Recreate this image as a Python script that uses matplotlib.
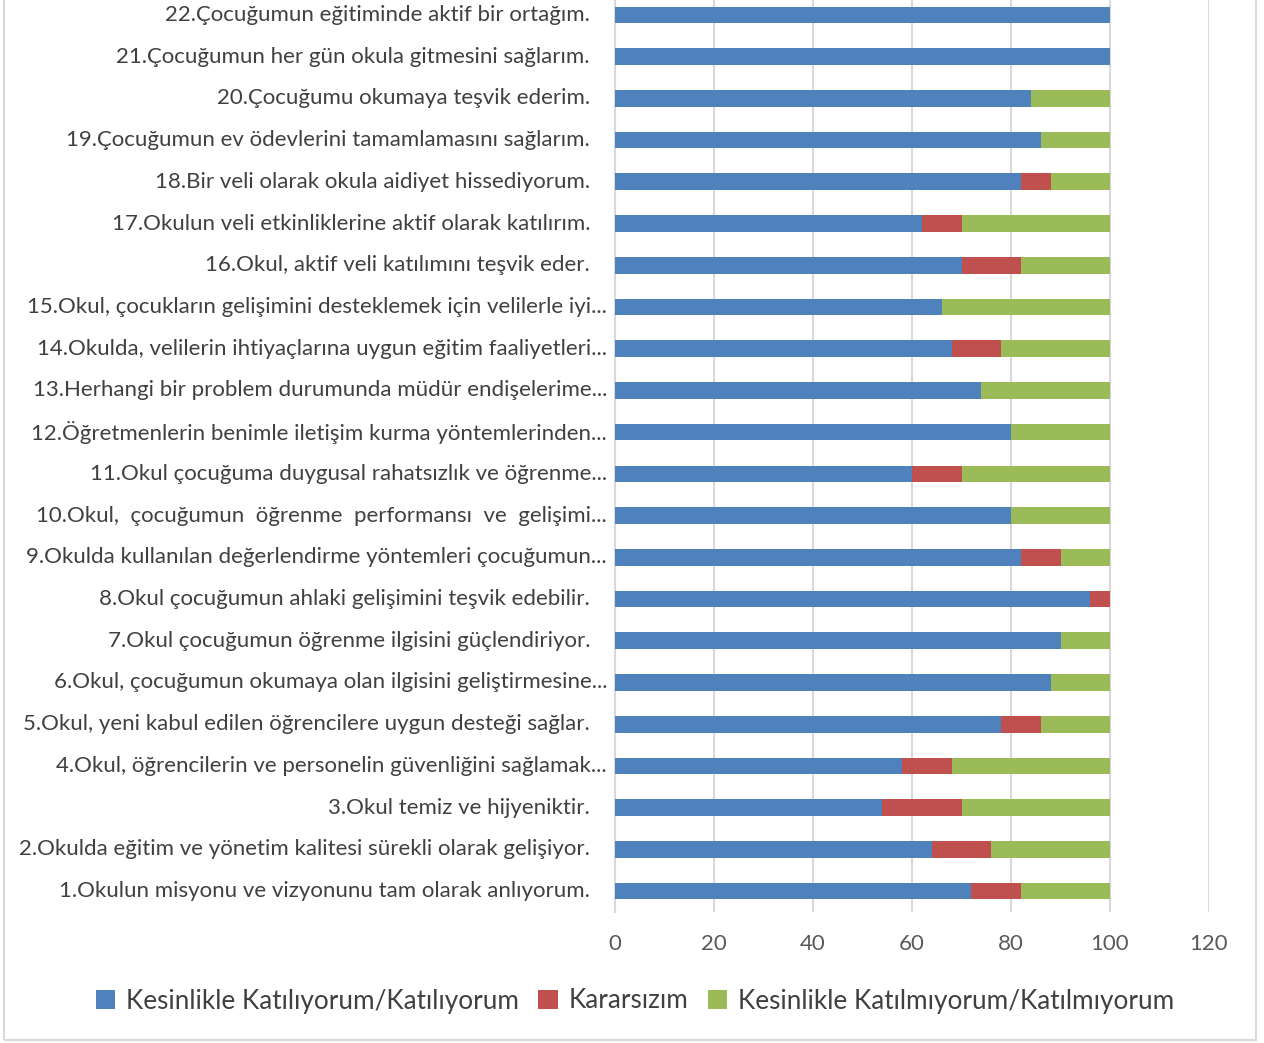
import matplotlib.pyplot as plt
from matplotlib.patches import Rectangle
from matplotlib.transforms import ScaledTranslation

plt.rcParams['font.family'] = ['Lato', 'DejaVu Sans']

## Data (item 1 at the bottom)
items = [
    "1.Okulun misyonu ve vizyonunu tam olarak anlıyorum.",
    "2.Okulda eğitim ve yönetim kalitesi sürekli olarak gelişiyor.",
    "3.Okul temiz ve hijyeniktir.",
    "4.Okul, öğrencilerin ve personelin güvenliğini sağlamak...",
    "5.Okul, yeni kabul edilen öğrencilere uygun desteği sağlar.",
    "6.Okul, çocuğumun okumaya olan ilgisini geliştirmesine...",
    "7.Okul çocuğumun öğrenme ilgisini güçlendiriyor.",
    "8.Okul çocuğumun ahlaki gelişimini teşvik edebilir.",
    "9.Okulda kullanılan değerlendirme yöntemleri çocuğumun...",
    "10.Okul,  çocuğumun  öğrenme  performansı  ve  gelişimi...",
    "11.Okul çocuğuma duygusal rahatsızlık ve öğrenme...",
    "12.Öğretmenlerin benimle iletişim kurma yöntemlerinden...",
    "13.Herhangi bir problem durumunda müdür endişelerime...",
    "14.Okulda, velilerin ihtiyaçlarına uygun eğitim faaliyetleri...",
    "15.Okul, çocukların gelişimini desteklemek için velilerle iyi...",
    "16.Okul, aktif veli katılımını teşvik eder.",
    "17.Okulun veli etkinliklerine aktif olarak katılırım.",
    "18.Bir veli olarak okula aidiyet hissediyorum.",
    "19.Çocuğumun ev ödevlerini tamamlamasını sağlarım.",
    "20.Çocuğumu okumaya teşvik ederim.",
    "21.Çocuğumun her gün okula gitmesini sağlarım.",
    "22.Çocuğumun eğitiminde aktif bir ortağım.",
]
agree = [72, 64, 54, 58, 78, 88, 90, 96, 82, 80, 60, 80, 74, 68, 66, 70, 62, 82, 86, 84, 100, 100]
undecided = [10, 12, 16, 10, 8, 0, 0, 4, 8, 0, 10, 0, 0, 10, 0, 12, 8, 6, 0, 0, 0, 0]
disagree = [18, 24, 30, 32, 14, 12, 10, 0, 10, 20, 30, 20, 26, 22, 34, 18, 30, 12, 14, 16, 0, 0]
series_names = ["Kesinlikle Katılıyorum/Katılıyorum", "Kararsızım",
                "Kesinlikle Katılmıyorum/Katılmıyorum"]
colors = ["#4F81BD", "#C0504D", "#9BBB59"]
xticks = [0, 20, 40, 60, 80, 100, 120]

W, H = 1264, 1043
fig = plt.figure(figsize=(W / 100, H / 100), dpi=100)
ax = fig.add_axes([615 / W, (H - 912) / H, 594 / W, 918 / H])

pos = list(range(1, len(items) + 1))
left2 = [a + u for a, u in zip(agree, undecided)]
ax.barh(pos, agree, height=0.4, color=colors[0], label=series_names[0], zorder=3)
ax.barh(pos, undecided, left=agree, height=0.4, color=colors[1], label=series_names[1], zorder=3)
ax.barh(pos, disagree, left=left2, height=0.4, color=colors[2], label=series_names[2], zorder=3)

ax.set_xlim(0, 120)
ax.set_ylim(0.5, len(items) + 0.5)
ax.set_xticks(xticks)
ax.set_xticklabels([str(t) for t in xticks], fontsize=16, color="#595959")
ax.tick_params(axis="x", length=0, pad=16)
ax.set_yticks([])
ax.grid(axis="x", color="#D9D9D9", linewidth=1.5, zorder=0)
ax.set_axisbelow(True)
for s in ["top", "right", "bottom"]:
    ax.spines[s].set_visible(False)
ax.spines["left"].set_color("#D9D9D9")
ax.spines["left"].set_linewidth(1.5)

# category labels, truncated ones sit closer to the axis
ytrans = ax.get_yaxis_transform()
for p, lab in zip(pos, items):
    off = -8 if lab.endswith("...") else -25
    t = ytrans + ScaledTranslation(off / 100, 0, fig.dpi_scale_trans)
    ax.text(0, p, lab, transform=t, ha="right", va="center",
            fontsize=16, color="#404040")

fig.legend(loc="center", bbox_to_anchor=(635 / W, 1 - 1001 / H), ncol=3,
           frameon=False, fontsize=18.8, handlelength=0.75, handleheight=0.75,
           handletextpad=0.4, columnspacing=0.75, labelcolor="#404040")

fig.patches.append(Rectangle((4 / W, 3 / H), 1252 / W, 1.1, transform=fig.transFigure,
                             fill=False, edgecolor="#D9D9D9", linewidth=1.5))

fig.savefig("out.png", dpi=100)
